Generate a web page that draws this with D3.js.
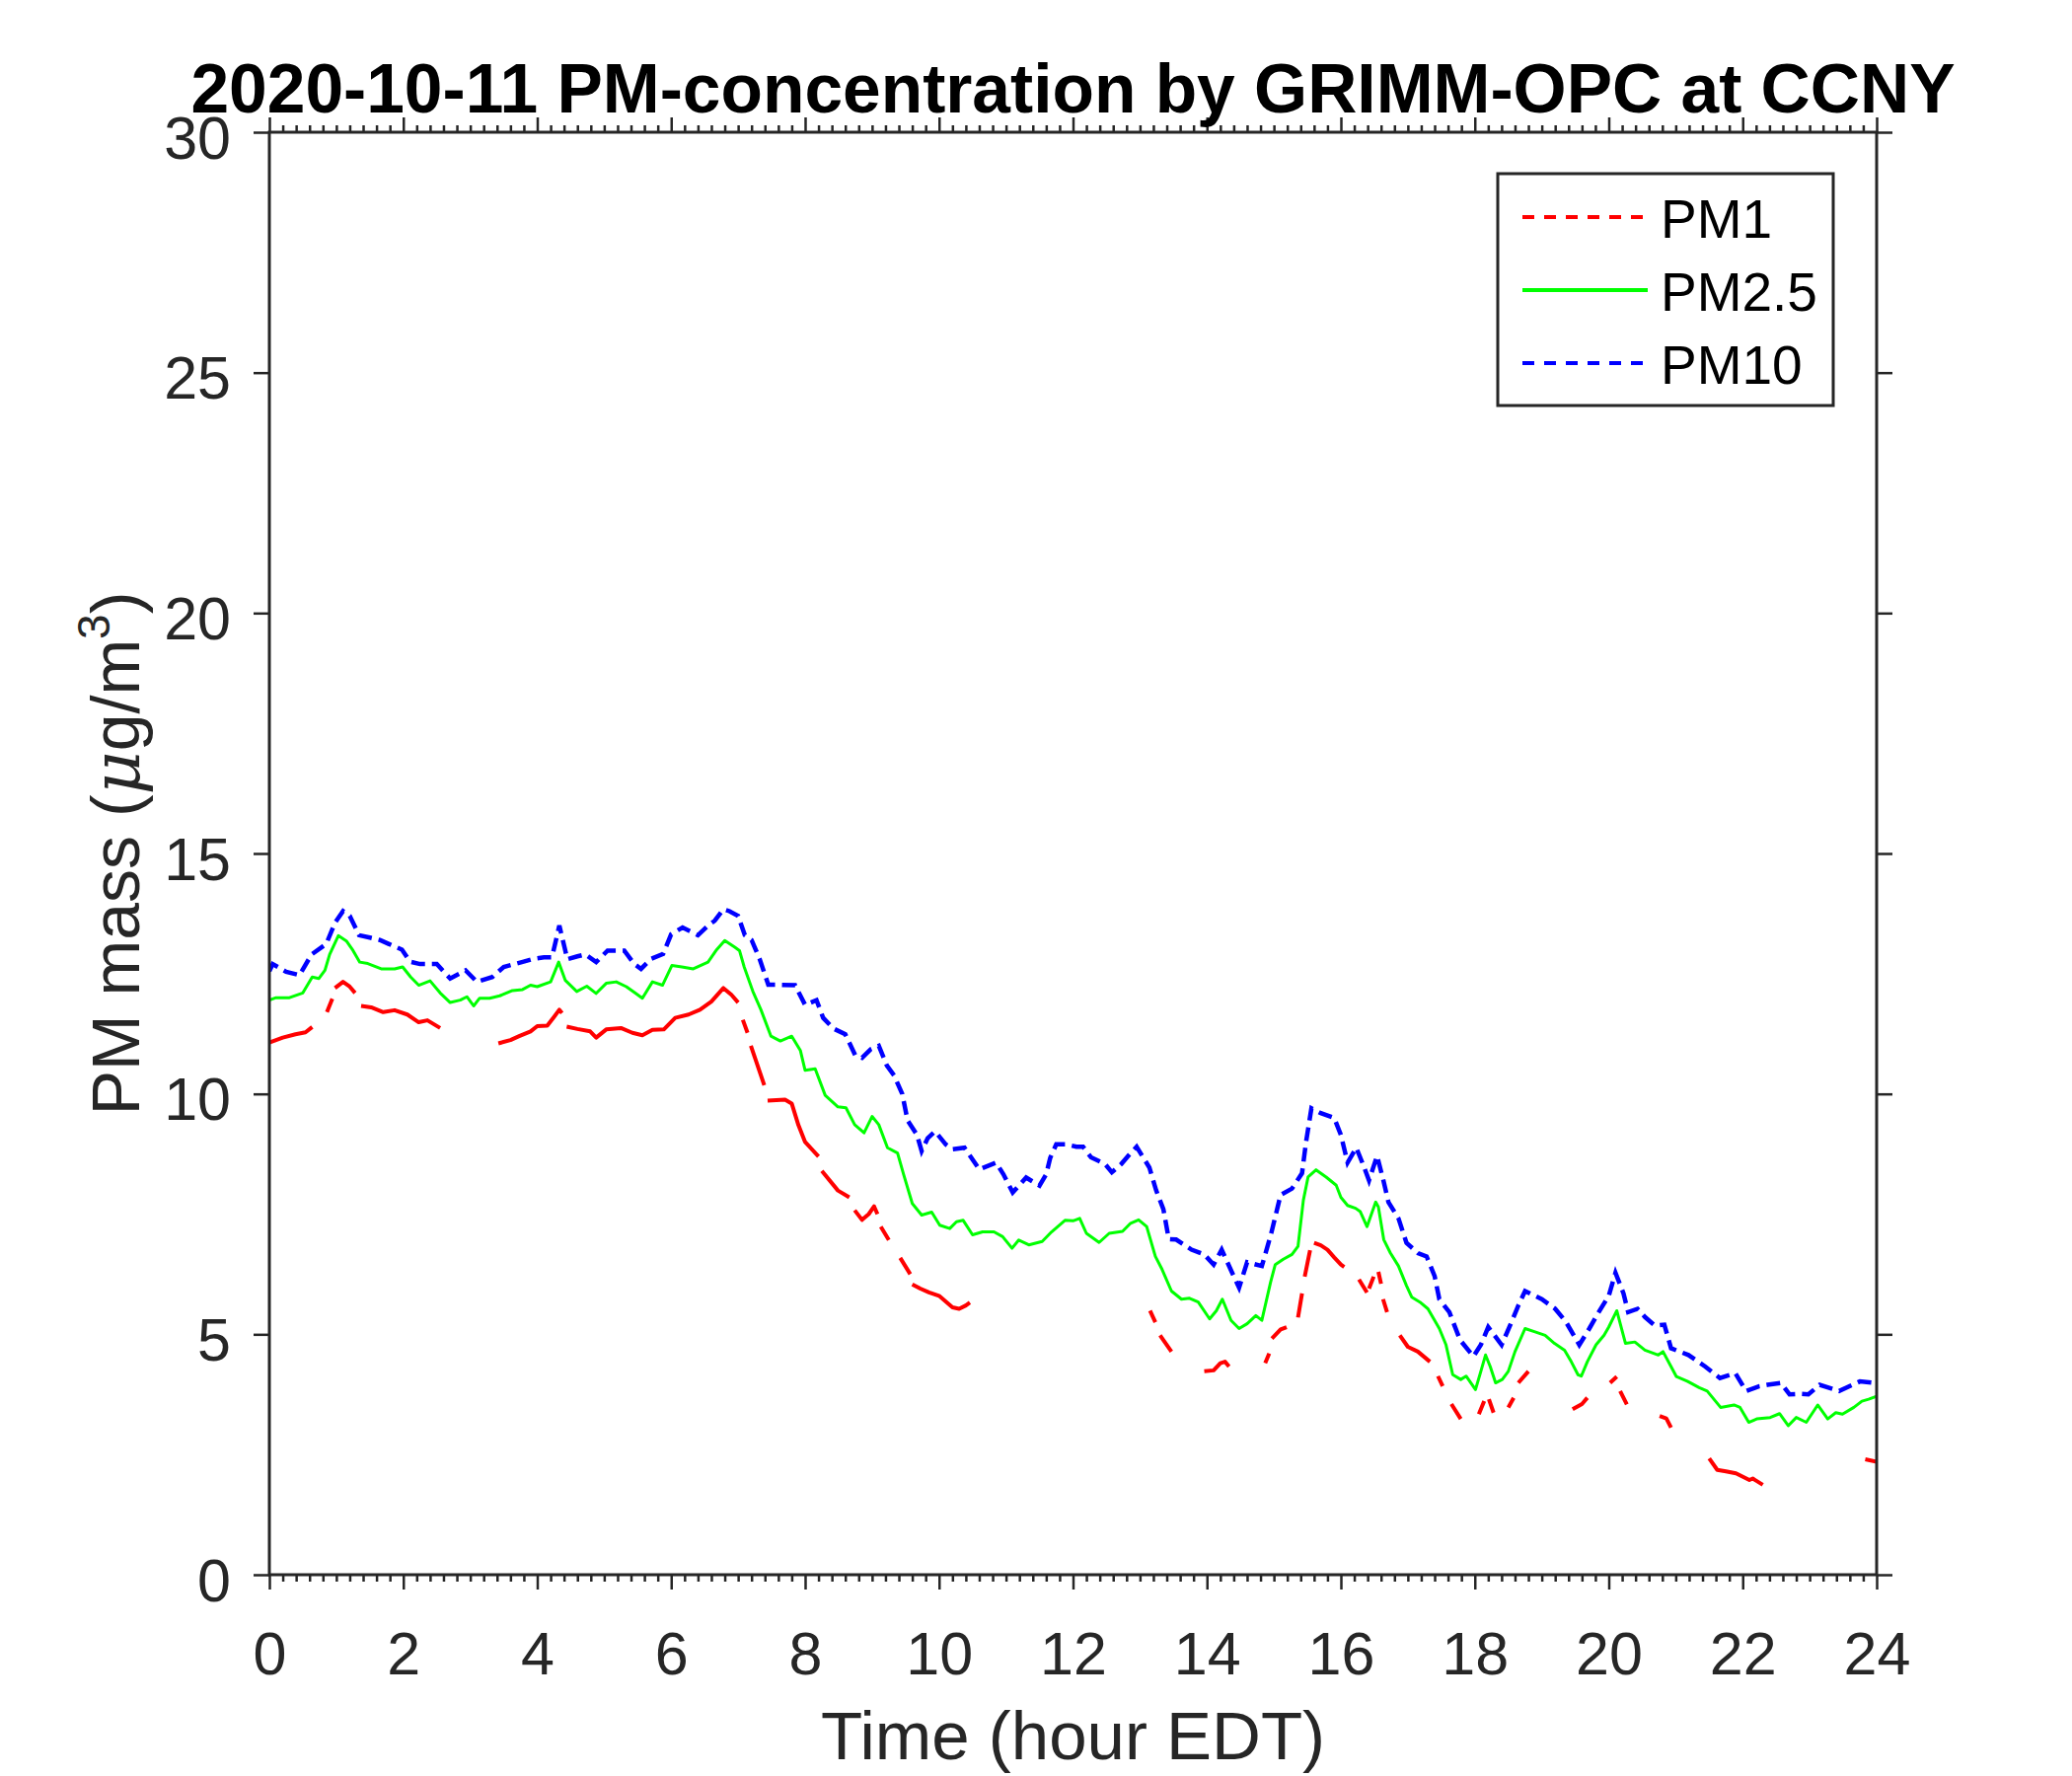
<!DOCTYPE html>
<html>
<head>
<meta charset="utf-8">
<script src="https://cdn.jsdelivr.net/npm/d3@7/dist/d3.min.js"></script>
<style>
  body { margin: 0; background: #fff; }
  svg text { font-family: "Liberation Sans", Arial, Helvetica, sans-serif; }
</style>
</head>
<body>
<svg id="chart" width="2100" height="1800"></svg>
<script>
// values (hour EDT, ug/m3)
const pm25Hours = [
  0, 0.1, 0.3, 0.5, 0.64, 0.74, 0.83, 0.9, 1.03, 1.15, 1.25, 1.35, 1.47, 1.67, 1.87, 1.99, 2.11, 2.23, 2.4, 2.55, 2.7, 2.85, 2.95, 3.05, 3.14, 3.29, 3.44, 3.63, 3.78, 3.9, 4.0,
  4.2, 4.32, 4.42, 4.59, 4.74, 4.88, 5.03, 5.18, 5.33, 5.47, 5.57, 5.72, 5.87, 6.01, 6.16, 6.33, 6.55, 6.68, 6.8, 6.95, 7.02, 7.09, 7.22, 7.34, 7.49, 7.63, 7.8, 7.93,
  8.0, 8.15, 8.3, 8.49, 8.61, 8.74, 8.88, 9.0, 9.1, 9.23, 9.38, 9.47, 9.6, 9.74, 9.89, 10.01, 10.16, 10.26, 10.36, 10.5, 10.65, 10.82, 10.95, 11.09, 11.19, 11.34, 11.54, 11.68, 11.88,
  12.0, 12.1, 12.2, 12.39, 12.54, 12.74, 12.86, 12.98, 13.1, 13.23, 13.33, 13.47, 13.62, 13.74, 13.87, 14.04, 14.14, 14.23, 14.36, 14.48, 14.6, 14.73, 14.82, 14.95, 15.02, 15.14, 15.27, 15.36, 15.44, 15.51, 15.63, 15.78, 15.93,
  16.0, 16.1, 16.22, 16.29, 16.39, 16.52, 16.56, 16.64, 16.74, 16.86, 16.98, 17.06, 17.18, 17.3, 17.4, 17.47, 17.57, 17.67, 17.79, 17.87, 18.01, 18.09, 18.16, 18.23, 18.31, 18.41, 18.5, 18.6, 18.75, 18.9, 19.05, 19.19, 19.34, 19.44, 19.54, 19.59, 19.68, 19.81, 19.93,
  20.0, 20.12, 20.25, 20.39, 20.54, 20.74, 20.81, 20.93, 21.01, 21.18, 21.35, 21.47, 21.67, 21.87, 21.96, 22.09, 22.21, 22.41, 22.55, 22.68, 22.8, 22.95, 23.12, 23.27, 23.39, 23.49, 23.66, 23.78, 23.88, 24.0
];
const pm25Values = [
  11.95, 12.0, 12.0, 12.1, 12.43, 12.4, 12.57, 12.9, 13.29, 13.18, 12.98, 12.74, 12.71, 12.6, 12.6, 12.64, 12.43, 12.26, 12.35, 12.1, 11.9, 11.95, 12.02, 11.83, 11.99, 11.99, 12.04, 12.15, 12.17, 12.26, 12.23,
  12.33, 12.74, 12.36, 12.13, 12.24, 12.09, 12.3, 12.33, 12.23, 12.09, 11.99, 12.33, 12.26, 12.67, 12.64, 12.6, 12.74, 13.0, 13.19, 13.05, 12.98, 12.64, 12.13, 11.75, 11.2, 11.1, 11.2, 10.9,
  10.49, 10.52, 9.97, 9.73, 9.71, 9.36, 9.19, 9.53, 9.36, 8.88, 8.77, 8.33, 7.72, 7.48, 7.54, 7.27, 7.2, 7.34, 7.37, 7.07, 7.13, 7.13, 7.03, 6.79, 6.96, 6.86, 6.93, 7.13, 7.37,
  7.36, 7.41, 7.1, 6.91, 7.1, 7.14, 7.31, 7.38, 7.24, 6.62, 6.35, 5.9, 5.73, 5.75, 5.67, 5.32, 5.49, 5.73, 5.29, 5.12, 5.22, 5.39, 5.29, 6.08, 6.45, 6.56, 6.66, 6.83, 7.79, 8.27, 8.42, 8.27, 8.1,
  7.85, 7.68, 7.62, 7.55, 7.24, 7.75, 7.65, 6.97, 6.69, 6.42, 6.01, 5.77, 5.67, 5.53, 5.29, 5.12, 4.78, 4.16, 4.06, 4.13, 3.85, 4.23, 4.57, 4.33, 3.99, 4.06, 4.23, 4.64, 5.12, 5.05, 4.98, 4.81, 4.67, 4.43, 4.16, 4.13, 4.43, 4.78, 4.98,
  5.15, 5.49, 4.81, 4.84, 4.67, 4.57, 4.64, 4.33, 4.12, 4.02, 3.89, 3.82, 3.48, 3.53, 3.48, 3.17, 3.24, 3.27, 3.35, 3.1, 3.27, 3.17, 3.53, 3.24, 3.37, 3.34, 3.48, 3.61, 3.65, 3.71
];

const pm10Hours = [
  0, 0.05, 0.25, 0.45, 0.63, 0.85, 0.98, 1.1, 1.2, 1.34, 1.5, 1.65, 1.78, 1.98, 2.1, 2.25, 2.5, 2.7, 2.93, 3.1, 3.33, 3.5, 3.77, 3.95,
  4.1, 4.22, 4.33, 4.45, 4.6, 4.72, 4.88, 5.05, 5.3, 5.45, 5.55, 5.7, 5.88, 6.0, 6.17, 6.4, 6.55, 6.65, 6.78, 6.87, 7.0, 7.1, 7.2, 7.32, 7.45, 7.6, 7.85, 8.0,
  8.17, 8.27, 8.42, 8.6, 8.75, 8.85, 8.98, 9.1, 9.22, 9.33, 9.45, 9.53, 9.67, 9.74, 9.83, 9.94, 10.1, 10.2, 10.38, 10.6, 10.85, 10.96, 11.1, 11.3, 11.5, 11.6, 11.66, 11.75, 11.9,
  12.05, 12.15, 12.27, 12.48, 12.58, 12.72, 12.85, 12.95, 13.14, 13.24, 13.35, 13.43, 13.54, 13.77, 13.96, 14.1, 14.22, 14.37, 14.48, 14.6, 14.82, 14.96, 15.1, 15.27, 15.42, 15.48, 15.56, 15.7, 15.9, 16.0,
  16.1, 16.23, 16.34, 16.42, 16.54, 16.63, 16.71, 16.86, 16.98, 17.15, 17.28, 17.4, 17.47, 17.62, 17.78, 17.98, 18.09, 18.2, 18.4, 18.55, 18.65, 18.75, 19.0, 19.2, 19.36, 19.56, 19.71, 19.85, 20.0,
  20.1, 20.22, 20.29, 20.43, 20.54, 20.69, 20.83, 20.93, 21.19, 21.44, 21.66, 21.89, 22.05, 22.25, 22.37, 22.57, 22.7, 22.86, 22.98, 23.15, 23.44, 23.75, 23.95, 24.0
];
const pm10Values = [
  12.55, 12.7, 12.54, 12.47, 12.9, 13.12, 13.56, 13.8, 13.7, 13.3, 13.25, 13.2, 13.12, 13.0, 12.75, 12.7, 12.7, 12.4, 12.57, 12.33, 12.43, 12.64, 12.74, 12.81,
  12.84, 12.84, 13.5, 12.8, 12.86, 12.9, 12.74, 12.98, 12.98, 12.7, 12.6, 12.81, 12.91, 13.32, 13.46, 13.3, 13.5, 13.6, 13.84, 13.8, 13.7, 13.3, 13.2, 12.81, 12.27, 12.27, 12.26, 11.85,
  11.95, 11.58, 11.36, 11.24, 10.8, 10.75, 10.93, 11.0, 10.59, 10.38, 10.0, 9.45, 9.15, 8.81, 9.08, 9.22, 8.95, 8.85, 8.88, 8.43, 8.57, 8.33, 7.95, 8.26, 8.09, 8.33, 8.67, 8.95, 8.95,
  8.9, 8.9, 8.68, 8.54, 8.37, 8.54, 8.75, 8.9, 8.47, 8.0, 7.6, 6.98, 6.97, 6.76, 6.66, 6.45, 6.76, 6.3, 5.97, 6.5, 6.42, 7.1, 7.9, 8.03, 8.35, 9.0, 9.7, 9.6, 9.5, 9.15,
  8.57, 8.88, 8.5, 8.2, 8.71, 8.23, 7.75, 7.41, 6.9, 6.69, 6.62, 6.21, 5.73, 5.46, 4.88, 4.54, 4.78, 5.15, 4.78, 5.26, 5.6, 5.9, 5.73, 5.53, 5.26, 4.78, 5.12, 5.46, 5.8,
  6.28, 5.85, 5.46, 5.53, 5.36, 5.18, 5.2, 4.71, 4.57, 4.33, 4.09, 4.19, 3.82, 3.92, 3.95, 3.99, 3.75, 3.76, 3.75, 3.95, 3.82, 4.02, 3.99, 3.95
];

// PM1: null marks the stretches where no red is visible
const pm1Hours = [
  0, 0.2, 0.39, 0.54, 0.64, 0.75,
  0.86, 0.94, 0.96,
  0.98, 1.1, 1.2, 1.28, 1.32,
  1.37, 1.52, 1.7, 1.87, 2.06, 2.23, 2.36, 2.55, 3.0,
  3.42, 3.6, 3.73, 3.9, 4.0, 4.15, 4.25, 4.33, 4.37, 4.4,
  4.44, 4.6, 4.79, 4.88, 5.03, 5.25, 5.42, 5.57, 5.72, 5.89, 6.06, 6.26, 6.43, 6.6, 6.78, 6.9, 7.0, 7.03,
  7.07, 7.14, 7.16,
  7.19, 7.39, 7.41,
  7.44, 7.7, 7.8, 7.9, 8.0, 8.2, 8.22,
  8.25, 8.49, 8.66, 8.7,
  8.74, 8.85, 8.95, 9.03, 9.08, 9.1,
  9.13, 9.25, 9.33,
  9.42, 9.57, 9.58,
  9.6, 9.72, 9.85, 10.0, 10.2, 10.3, 10.4, 10.46, 12.0,
  13.15, 13.23, 13.26,
  13.3, 13.47, 13.7,
  13.96, 14.1, 14.2, 14.27, 14.33, 14.6,
  14.87, 14.93, 14.95,
  14.97, 15.1, 15.19, 15.3,
  15.36, 15.42, 15.44,
  15.46, 15.54, 15.57,
  15.6, 15.7, 15.8, 15.9, 16.0, 16.05, 16.15,
  16.27, 16.39, 16.4,
  16.42, 16.49, 16.52,
  16.56, 16.6, 16.61,
  16.63, 16.69, 16.8,
  16.88, 17.0, 17.15, 17.33, 17.4,
  17.45, 17.52, 17.6,
  17.65, 17.79, 17.9,
  18.06, 18.14, 18.17,
  18.21, 18.28, 18.4,
  18.5, 18.58, 18.61,
  18.65, 18.8, 19.0,
  19.46, 19.6, 19.68, 19.9,
  20.02, 20.12, 20.14,
  20.17, 20.27, 20.5,
  20.76, 20.86, 20.93, 21.2,
  21.5, 21.62, 21.75, 21.9, 22.1, 22.15, 22.3, 23.0,
  23.83, 24.0
];
const pm1Values = [
  11.07, 11.17, 11.24, 11.28, 11.39, null,
  11.7, 11.98, null,
  12.2, 12.33, 12.23, 12.1, null,
  11.83, 11.8, 11.7, 11.74, 11.65, 11.49, 11.53, 11.37, null,
  11.05, 11.12, 11.2, 11.3, 11.41, 11.42, 11.6, 11.75, 11.68, null,
  11.4, 11.35, 11.3, 11.17, 11.34, 11.37, 11.27, 11.22, 11.33, 11.34, 11.58, 11.65, 11.75, 11.92, 12.2, 12.06, 11.9, null,
  11.54, 11.27, null,
  11.0, 10.18, null,
  9.86, 9.88, 9.8, 9.35, 9.0, 8.7, null,
  8.4, 7.99, 7.85, null,
  7.58, 7.38, 7.5, 7.66, 7.5, null,
  7.24, 6.96, null,
  6.59, 6.25, null,
  6.04, 5.95, 5.87, 5.8, 5.56, 5.53, 5.6, 5.66, null,
  5.49, 5.25, null,
  4.98, 4.64, null,
  4.23, 4.25, 4.4, 4.43, 4.33, null,
  4.4, 4.6, null,
  4.91, 5.1, 5.15, null,
  5.35, 5.85, null,
  6.2, 6.75, null,
  6.9, 6.85, 6.76, 6.6, 6.45, 6.4, null,
  6.14, 5.87, null,
  5.95, 6.2, null,
  6.3, 6.05, null,
  5.73, 5.46, null,
  4.98, 4.74, 4.64, 4.43, null,
  4.13, 3.92, null,
  3.55, 3.24, null,
  3.34, 3.61, null,
  3.65, 3.37, null,
  3.48, 3.68, null,
  3.99, 4.23, null,
  3.44, 3.55, 3.68, null,
  3.99, 4.12, null,
  3.82, 3.54, null,
  3.3, 3.25, 3.06, null,
  2.42, 2.18, 2.15, 2.11, 1.97, 2.0, 1.87, null,
  2.4, 2.35
];

const seriesNames = ['PM1', 'PM2.5', 'PM10'];
const seriesColors = ['#ff0000', '#00ff00', '#0000ff'];
const xTicks = [0, 2, 4, 6, 8, 10, 12, 14, 16, 18, 20, 22, 24];
const yTicks = [0, 5, 10, 15, 20, 25, 30];

const titleText = '2020-10-11 PM-concentration by GRIMM-OPC at CCNY';
const xLabel = 'Time (hour EDT)';

// layout
const plotLeft = 273, plotRight = 1902, plotTop = 134, plotBottom = 1596;
const axisColor = '#262626';
const tickFont = 61;

const svg = d3.select('#chart');
svg.append('rect').attr('width', 2100).attr('height', 1800).attr('fill', '#fff');

const x = d3.scaleLinear().domain([0, 24]).range([plotLeft, plotRight]);
const y = d3.scaleLinear().domain([0, 30]).range([plotBottom, plotTop]);

const xMinor = d3.range(0, 24.001, 0.2).filter(h => Math.abs(h / 2 - Math.round(h / 2)) > 0.01);

function styleTicks(g) {
    g.select('.domain').remove();
    g.selectAll('.tick line').attr('stroke', axisColor).attr('stroke-width', 2.5);
}

// minor ticks, bottom and top
svg.append('g').attr('transform', `translate(0,${plotBottom})`)
    .call(d3.axisBottom(x).tickValues(xMinor).tickSize(7).tickFormat(''))
    .call(styleTicks);
svg.append('g').attr('transform', `translate(0,${plotTop})`)
    .call(d3.axisTop(x).tickValues(xMinor).tickSize(7).tickFormat(''))
    .call(styleTicks);

// major ticks
svg.append('g').attr('transform', `translate(0,${plotBottom})`)
    .call(d3.axisBottom(x).tickValues(xTicks).tickSize(15).tickFormat(d3.format('d')))
    .call(styleTicks)
    .call(g => g.selectAll('.tick text')
        .attr('y', 101).attr('dy', null)
        .attr('font-size', tickFont).attr('fill', axisColor));
svg.append('g').attr('transform', `translate(0,${plotTop})`)
    .call(d3.axisTop(x).tickValues(xTicks).tickSize(15).tickFormat(''))
    .call(styleTicks);
svg.append('g').attr('transform', `translate(${plotLeft},0)`)
    .call(d3.axisLeft(y).tickValues(yTicks).tickSize(16).tickFormat(d3.format('d')))
    .call(styleTicks)
    .call(g => g.selectAll('.tick text')
        .attr('x', -39).attr('y', 26).attr('dy', null)
        .attr('font-size', tickFont).attr('fill', axisColor));
svg.append('g').attr('transform', `translate(${plotRight},0)`)
    .call(d3.axisRight(y).tickValues(yTicks).tickSize(16).tickFormat(''))
    .call(styleTicks);

// lines
svg.append('clipPath').attr('id', 'plot-clip')
    .append('rect')
    .attr('x', plotLeft).attr('y', plotTop - 2)
    .attr('width', plotRight - plotLeft).attr('height', plotBottom - plotTop + 4);

const line = d3.line()
    .defined(d => d[1] != null)
    .x(d => x(d[0]))
    .y(d => y(d[1]));

const plot = svg.append('g').attr('clip-path', 'url(#plot-clip)');

plot.append('path')
    .datum(d3.zip(pm1Hours, pm1Values))
    .attr('fill', 'none')
    .attr('stroke', seriesColors[0])
    .attr('stroke-width', 4)
    .attr('stroke-linejoin', 'round')
    .attr('d', line);

plot.append('path')
    .datum(d3.zip(pm25Hours, pm25Values))
    .attr('fill', 'none')
    .attr('stroke', seriesColors[1])
    .attr('stroke-width', 3)
    .attr('stroke-linejoin', 'round')
    .attr('d', line);

plot.append('path')
    .datum(d3.zip(pm10Hours, pm10Values))
    .attr('fill', 'none')
    .attr('stroke', seriesColors[2])
    .attr('stroke-width', 4.5)
    .attr('stroke-dasharray', '14,7')
    .attr('d', line);

// axes box
svg.append('rect')
    .attr('x', plotLeft).attr('y', plotTop)
    .attr('width', plotRight - plotLeft).attr('height', plotBottom - plotTop)
    .attr('fill', 'none')
    .attr('stroke', axisColor)
    .attr('stroke-width', 3);

// title and labels
svg.append('text')
    .attr('x', (plotLeft + plotRight) / 2).attr('y', 114)
    .attr('text-anchor', 'middle')
    .attr('font-size', 69.5).attr('font-weight', 'bold')
    .attr('fill', '#000')
    .text(titleText);

svg.append('text')
    .attr('x', (plotLeft + plotRight) / 2).attr('y', 1783)
    .attr('text-anchor', 'middle')
    .attr('font-size', 69).attr('fill', axisColor)
    .text(xLabel);

const yl = svg.append('text')
    .attr('transform', `translate(141,${(plotTop + plotBottom) / 2}) rotate(-90)`)
    .attr('text-anchor', 'middle')
    .attr('font-size', 68).attr('fill', axisColor);
yl.append('tspan').text('PM mass (');
yl.append('tspan').attr('font-style', 'italic').style('font-family', '"DejaVu Serif", serif').text('\u03bc');
yl.append('tspan').text('g/m');
yl.append('tspan').attr('font-size', 46).attr('dy', -30).text('3');
yl.append('tspan').attr('dy', 30).text(')');

// legend
const legend = svg.append('g');
legend.append('rect')
    .attr('x', 1518).attr('y', 176)
    .attr('width', 340).attr('height', 235)
    .attr('fill', '#fff')
    .attr('stroke', axisColor)
    .attr('stroke-width', 3);

const legendRows = seriesNames.map((name, i) => ({name, color: seriesColors[i], dashed: i !== 1}));
const rowY = d3.scalePoint().domain(seriesNames).range([220, 368]);

legend.selectAll('line.key')
    .data(legendRows)
    .enter().append('line')
    .attr('class', 'key')
    .attr('x1', 1543).attr('x2', 1670)
    .attr('y1', d => rowY(d.name)).attr('y2', d => rowY(d.name))
    .attr('stroke', d => d.color)
    .attr('stroke-width', 4)
    .attr('stroke-dasharray', d => d.dashed ? '12,10' : null);

legend.selectAll('text')
    .data(legendRows)
    .enter().append('text')
    .attr('x', 1683)
    .attr('y', d => rowY(d.name) + 21)
    .attr('font-size', 55)
    .attr('fill', '#000')
    .text(d => d.name);
</script>
</body>
</html>
